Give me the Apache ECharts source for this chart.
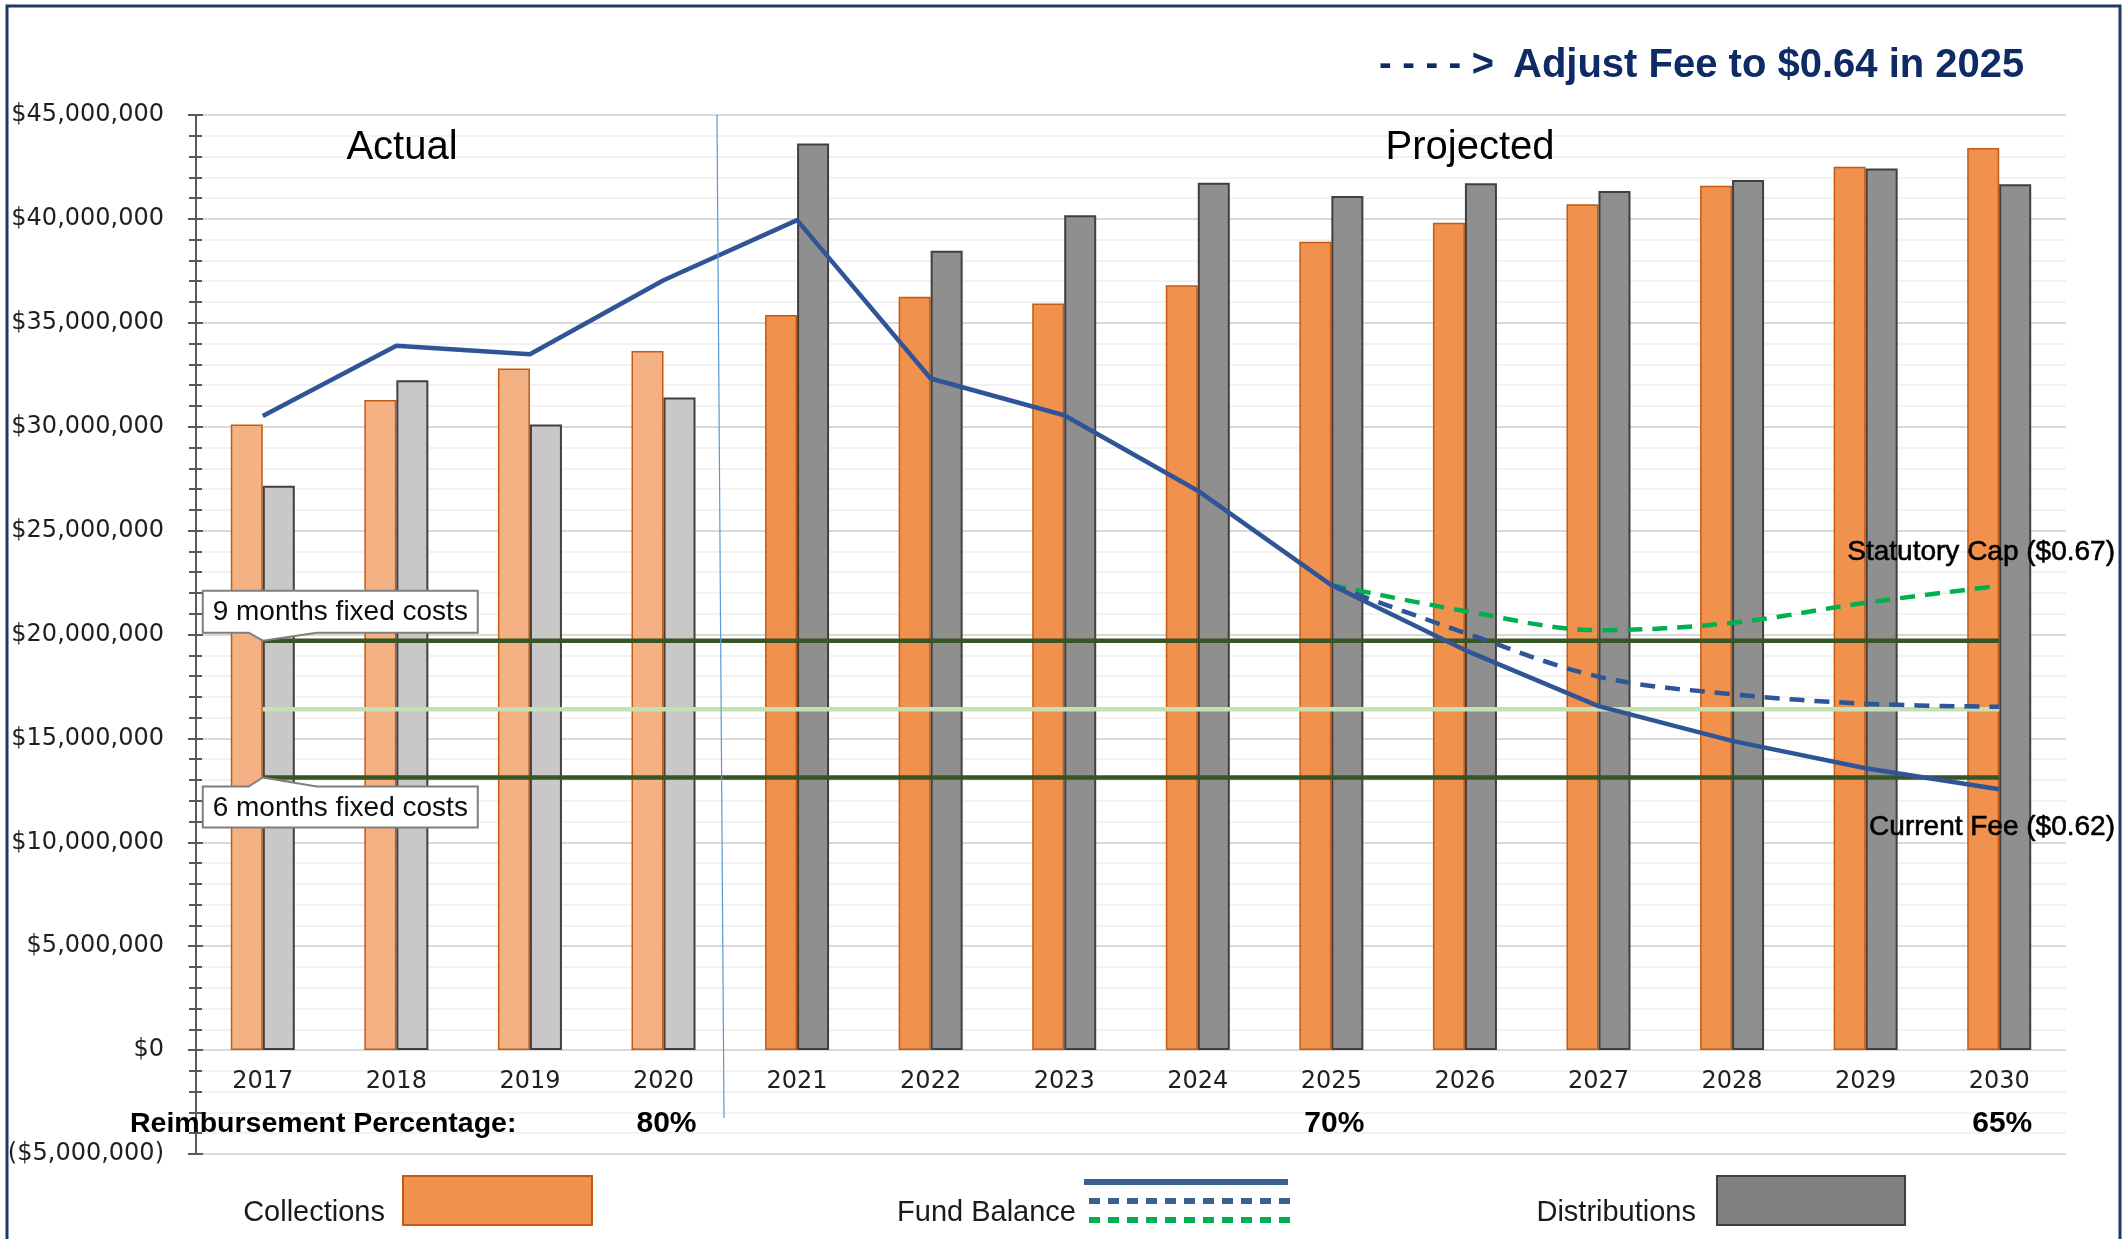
<!DOCTYPE html>
<html>
<head>
<meta charset="utf-8">
<script src="https://cdn.jsdelivr.net/npm/echarts@6/dist/echarts.min.js"></script>
<style>
html,body{margin:0;padding:0;background:#ffffff;}
#chart{width:2125px;height:1239px;}
</style>
</head>
<body>
<div id="chart"></div>
<script>
// ---------------- DATA ----------------
const years = ['2017','2018','2019','2020','2021','2022','2023','2024','2025','2026','2027','2028','2029','2030'];
const actualCount = 4; // 2017-2020 are actual, rest projected
const collections   = [30110000, 31280000, 32800000, 33640000, 35370000, 36250000, 35930000, 36810000, 38900000, 39810000, 40710000, 41590000, 42510000, 43410000];
const distributions = [27160000, 32240000, 30110000, 31410000, 43630000, 38470000, 40180000, 41740000, 41100000, 41710000, 41340000, 41870000, 42430000, 41670000];
const fundBalanceCurrentFee = [30510000, 33890000, 33490000, 37050000, 39940000, 32320000, 30550000, 26920000, 22380000, 19250000, 16550000, 14880000, 13560000, 12550000];
const fundBalanceAdjustedFee = [null, null, null, null, null, null, null, null, 22380000, 20080000, 17970000, 17130000, 16670000, 16520000];
const fundBalanceStatutoryCap = [null, null, null, null, null, null, null, null, 22380000, 21130000, 20210000, 20560000, 21530000, 22340000];
const nineMonthsFixedCosts = 19700000;
const midReserveLevel = 16400000;
const sixMonthsFixedCosts = 13120000;
const reimbursementYears = ['2020', '2025', '2030'];
const reimbursementLabels = ['80%', '70%', '65%'];
const yMin = -5000000, yMax = 45000000, yStep = 5000000;

// ---------------- STYLE ----------------
const WORD_FONT = '"Liberation Sans", Arial, sans-serif';
const NUM_FONT = '"DejaVu Sans", sans-serif';
const C_ORANGE_LIGHT = '#F4B183', C_ORANGE = '#F0914D', C_ORANGE_EDGE = '#C55A11';
const C_GRAY_LIGHT = '#C8C8C8', C_GRAY = '#8F8F8F', C_GRAY_EDGE = '#404040';
const C_BLUE = '#2F5597', C_GREEN_DASH = '#00B050', C_DARK_GREEN = '#375623', C_LIGHT_GREEN = '#C5E0B4';
const C_LABEL = '#1F1F1F';

const GRID = {left: 196, right: 59, top: 115, bottom: 85};
const gridHeight = 1239 - GRID.top - GRID.bottom;
// distance of the zero line above the bottom of the plot
const zeroOffset = (0 - yMin) / (yMax - yMin) * gridHeight;

function moneyFmt(v) {
  const abs = Math.abs(v).toLocaleString('en-US');
  return v < 0 ? '($' + abs + ')' : '$' + abs;
}

const chart = echarts.init(document.getElementById('chart'), null, {renderer: 'canvas'});

const option = {
  backgroundColor: '#ffffff',
  animation: false,
  grid: {left: GRID.left, right: GRID.right, top: GRID.top, bottom: GRID.bottom, containLabel: false, outerBoundsMode: 'none'},
  xAxis: {
    type: 'category',
    data: years,
    position: 'bottom',
    offset: -zeroOffset,
    axisLine: {show: false, onZero: false},
    axisTick: {show: false},
    axisLabel: {fontFamily: NUM_FONT, fontSize: 24, color: C_LABEL, margin: 20},
    splitLine: {show: false}
  },
  yAxis: [{
    type: 'value',
    min: yMin, max: yMax, interval: yStep,
    position: 'left',
    axisLine: {show: true, onZero: false, lineStyle: {color: '#595959', width: 2}},
    axisTick: {show: true, length: 8, lineStyle: {color: '#595959', width: 2}},
    minorTick: {show: true, splitNumber: 5, length: 7, lineStyle: {color: '#595959', width: 2}},
    axisLabel: {fontFamily: NUM_FONT, fontSize: 24, color: C_LABEL, margin: 32, formatter: moneyFmt},
    splitLine: {show: true, lineStyle: {color: '#D9D9D9', width: 2}},
    minorSplitLine: {show: true, lineStyle: {color: '#F2F2F2', width: 2}}
  }, {
    type: 'value',
    min: yMin, max: yMax, interval: yStep,
    position: 'left',
    axisLine: {show: false, onZero: false},
    axisTick: {show: true, inside: true, length: 7, lineStyle: {color: '#595959', width: 2}},
    minorTick: {show: true, splitNumber: 5, length: 6, lineStyle: {color: '#595959', width: 2}},
    axisLabel: {show: false},
    splitLine: {show: false}
  }],
  series: [
    {
      name: 'Collections', type: 'bar', barWidth: 32, barGap: '0%',
      data: collections.map((v, i) => ({
        value: v,
        itemStyle: {color: i < actualCount ? C_ORANGE_LIGHT : C_ORANGE, borderColor: C_ORANGE_EDGE, borderWidth: 1.5}
      }))
    },
    {
      name: 'Distributions', type: 'bar', barWidth: 32, barGap: '0%',
      data: distributions.map((v, i) => ({
        value: v,
        itemStyle: {color: i < actualCount ? C_GRAY_LIGHT : C_GRAY, borderColor: C_GRAY_EDGE, borderWidth: 2}
      }))
    },
    {
      name: '9 months fixed costs', type: 'line', symbol: 'none',
      data: years.map(() => nineMonthsFixedCosts),
      lineStyle: {color: C_DARK_GREEN, width: 4.5}, z: 3
    },
    {
      name: 'Mid reserve', type: 'line', symbol: 'none',
      data: years.map(() => midReserveLevel),
      lineStyle: {color: C_LIGHT_GREEN, width: 4.5}, z: 3
    },
    {
      name: '6 months fixed costs', type: 'line', symbol: 'none',
      data: years.map(() => sixMonthsFixedCosts),
      lineStyle: {color: C_DARK_GREEN, width: 4.5}, z: 3
    },
    {
      name: 'Fund Balance (Statutory Cap)', type: 'line', symbol: 'none', smooth: 0.35,
      data: fundBalanceStatutoryCap,
      lineStyle: {color: C_GREEN_DASH, width: 4.5, type: [15, 10]}, z: 4
    },
    {
      name: 'Fund Balance (Adjusted Fee)', type: 'line', symbol: 'none', smooth: 0.35,
      data: fundBalanceAdjustedFee,
      lineStyle: {color: C_BLUE, width: 4.5, type: [15, 10]}, z: 4
    },
    {
      name: 'Fund Balance', type: 'line', symbol: 'none',
      data: fundBalanceCurrentFee,
      lineStyle: {color: C_BLUE, width: 4.5}, z: 5
    }
  ]
};

chart.setOption(option);

// ---------------- ANNOTATIONS ----------------
function px(year, val) { return chart.convertToPixel({xAxisIndex: 0, yAxisIndex: 0}, [year, val]); }

const g = [];
// outer border
g.push({type: 'rect', shape: {x: 7, y: 6, width: 2113, height: 1260}, style: {fill: 'none', stroke: '#1F3864', lineWidth: 3}, z: 100});
// divider between actual and projected
g.push({type: 'line', shape: {x1: 717, y1: 115, x2: 724, y2: 1118}, style: {stroke: '#5B9BD5', lineWidth: 1.2}, z: 50});

// titles
g.push({type: 'text', x: 1494, y: 66, style: {text: '- - - - >', font: 'bold 38px ' + WORD_FONT, fill: '#0F2B66', align: 'right', verticalAlign: 'middle'}, z: 60});
g.push({type: 'text', x: 1513, y: 66, style: {text: 'Adjust Fee to $0.64 in 2025', font: 'bold 40px ' + WORD_FONT, fill: '#0F2B66', align: 'left', verticalAlign: 'middle'}, z: 60});
g.push({type: 'text', x: 402, y: 148, style: {text: 'Actual', font: '40px ' + WORD_FONT, fill: '#000000', align: 'center', verticalAlign: 'middle'}, z: 60});
g.push({type: 'text', x: 1470, y: 148, style: {text: 'Projected', font: '40px ' + WORD_FONT, fill: '#000000', align: 'center', verticalAlign: 'middle'}, z: 60});

// callouts
const a9 = px(years[0], nineMonthsFixedCosts);
const b9 = {l: a9[0] - 60, r: a9[0] + 215, t: a9[1] - 50, b: a9[1] - 8};
g.push({type: 'polygon', shape: {points: [[b9.l, b9.t], [b9.r, b9.t], [b9.r, b9.b], [a9[0] + 54, b9.b], [a9[0], a9[1]], [a9[0] - 14, b9.b], [b9.l, b9.b]]},
  style: {fill: '#ffffff', stroke: '#7F7F7F', lineWidth: 2}, z: 70});
g.push({type: 'text', x: (b9.l + b9.r) / 2, y: (b9.t + b9.b) / 2 + 1, style: {text: '9 months fixed costs', font: '28px ' + WORD_FONT, fill: '#0D0D0D', align: 'center', verticalAlign: 'middle'}, z: 71});

const a6 = px(years[0], sixMonthsFixedCosts);
const b6 = {l: a6[0] - 60, r: a6[0] + 215, t: a6[1] + 9, b: a6[1] + 50};
g.push({type: 'polygon', shape: {points: [[b6.l, b6.t], [a6[0] - 14, b6.t], [a6[0], a6[1]], [a6[0] + 54, b6.t], [b6.r, b6.t], [b6.r, b6.b], [b6.l, b6.b]]},
  style: {fill: '#ffffff', stroke: '#7F7F7F', lineWidth: 2}, z: 70});
g.push({type: 'text', x: (b6.l + b6.r) / 2, y: (b6.t + b6.b) / 2 + 1, style: {text: '6 months fixed costs', font: '28px ' + WORD_FONT, fill: '#0D0D0D', align: 'center', verticalAlign: 'middle'}, z: 71});

// scenario labels
g.push({type: 'text', x: 2115, y: 552, style: {text: 'Statutory Cap ($0.67)', font: '28px ' + WORD_FONT, fill: '#000000', align: 'right', verticalAlign: 'middle', stroke: '#000000', lineWidth: 0.6}, z: 60});
g.push({type: 'text', x: 2115, y: 827, style: {text: 'Current Fee ($0.62)', font: '28px ' + WORD_FONT, fill: '#000000', align: 'right', verticalAlign: 'middle', stroke: '#000000', lineWidth: 0.6}, z: 60});

// reimbursement row
g.push({type: 'text', x: 130, y: 1124, style: {text: 'Reimbursement Percentage:', font: 'bold 28.5px ' + WORD_FONT, fill: '#000000', align: 'left', verticalAlign: 'middle'}, z: 60});
reimbursementYears.forEach((yr, i) => {
  const p = px(yr, 0);
  g.push({type: 'text', x: p[0] + 3, y: 1124, style: {text: reimbursementLabels[i], font: 'bold 30px ' + WORD_FONT, fill: '#000000', align: 'center', verticalAlign: 'middle'}, z: 60});
});

// legend
g.push({type: 'text', x: 385, y: 1213, style: {text: 'Collections', font: '29px ' + WORD_FONT, fill: '#1A1A1A', align: 'right', verticalAlign: 'middle'}, z: 60});
g.push({type: 'rect', shape: {x: 403, y: 1176, width: 189, height: 49}, style: {fill: C_ORANGE, stroke: C_ORANGE_EDGE, lineWidth: 2}, z: 60});
g.push({type: 'text', x: 1076, y: 1213, style: {text: 'Fund Balance', font: '29px ' + WORD_FONT, fill: '#1A1A1A', align: 'right', verticalAlign: 'middle'}, z: 60});
g.push({type: 'line', shape: {x1: 1084, y1: 1182, x2: 1288, y2: 1182}, style: {stroke: '#3A6190', lineWidth: 6}, z: 60});
g.push({type: 'line', shape: {x1: 1089, y1: 1201, x2: 1294, y2: 1201}, style: {stroke: '#3A6190', lineWidth: 6, lineDash: [11, 8]}, z: 60});
g.push({type: 'line', shape: {x1: 1089, y1: 1220, x2: 1294, y2: 1220}, style: {stroke: C_GREEN_DASH, lineWidth: 6, lineDash: [11, 8]}, z: 60});
g.push({type: 'text', x: 1696, y: 1213, style: {text: 'Distributions', font: '29px ' + WORD_FONT, fill: '#1A1A1A', align: 'right', verticalAlign: 'middle'}, z: 60});
g.push({type: 'rect', shape: {x: 1717, y: 1176, width: 188, height: 49}, style: {fill: '#808080', stroke: C_GRAY_EDGE, lineWidth: 2}, z: 60});

chart.setOption({graphic: {elements: g}});
</script>
</body>
</html>
